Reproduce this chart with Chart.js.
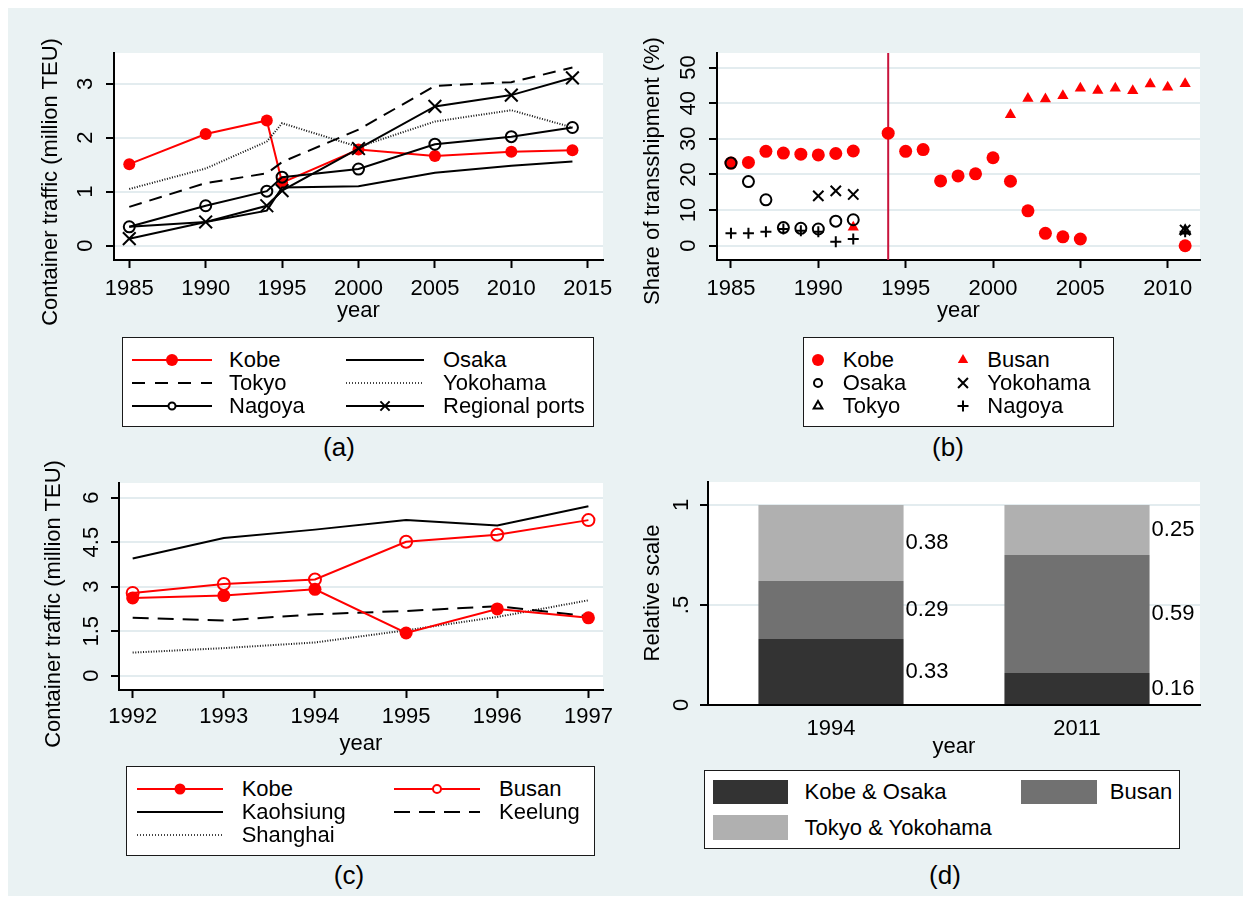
<!DOCTYPE html>
<html>
<head>
<meta charset="utf-8">
<title>Container traffic and transshipment</title>
<script src="https://cdn.jsdelivr.net/npm/chart.js@4.4.1/dist/chart.umd.min.js"></script>
<style>
  html, body { margin: 0; padding: 0; background: #fff; }
  body { position: relative; width: 1243px; height: 902px; overflow: hidden;
         font-family: 'Liberation Sans', Arial, sans-serif; color: #000; }
  #frame { position: absolute; left: 8px; top: 8px; width: 1235px; height: 888px; background: #eaf2f3; }
  canvas.panel { position: absolute; }
  .ytitle { position: absolute; font-size: 22px; line-height: 22px; white-space: nowrap;
            transform: translate(-50%, -50%) rotate(-90deg); }
  .caption { position: absolute; font-size: 26px; line-height: 26px; white-space: nowrap;
             transform: translate(-50%, -50%); }
  .legend { position: absolute; background: #fff; border: 1px solid #1a1a1a; box-sizing: border-box; }
  .legend span { position: absolute; font-size: 22px; line-height: 22px; white-space: nowrap; }
  .legend canvas { position: absolute; }
</style>
</head>
<body>
<div id="frame"></div>

<canvas class="panel" id="chartA" width="593" height="284" style="left:30px;top:40px"></canvas>
<canvas class="panel" id="chartB" width="580" height="284" style="left:640px;top:40px"></canvas>
<canvas class="panel" id="chartC" width="593" height="287" style="left:30px;top:470px"></canvas>
<canvas class="panel" id="chartD" width="580" height="290" style="left:640px;top:470px"></canvas>

<div class="ytitle" style="left:49.5px;top:182px">Container traffic (million TEU)</div>
<div class="ytitle" style="left:652px;top:171px">Share of transshipment (%)</div>
<div class="ytitle" style="left:53px;top:604px">Container traffic (million TEU)</div>
<div class="ytitle" style="left:652px;top:593px">Relative scale</div>

<div class="caption" style="left:339px;top:447px">(a)</div>
<div class="caption" style="left:948px;top:447px">(b)</div>
<div class="caption" style="left:349px;top:875px">(c)</div>
<div class="caption" style="left:945px;top:875px">(d)</div>

<script>
// ---- (a) container traffic of Japanese ports, million TEU
const yearsA = [1985, 1990, 1994, 1995, 2000, 2005, 2010, 2014];
const kobeA = [1.51, 2.07, 2.32, 1.17, 1.78, 1.66, 1.74, 1.77];
const osakaA = [0.35, 0.44, 0.65, 1.08, 1.10, 1.35, 1.48, 1.56];
const tokyoA = [0.72, 1.16, 1.34, 1.55, 2.15, 2.96, 3.03, 3.30];
const yokohamaA = [1.05, 1.43, 1.93, 2.27, 1.83, 2.30, 2.51, 2.19];
const nagoyaA = [0.35, 0.74, 1.01, 1.27, 1.42, 1.88, 2.02, 2.19];
const regionalA = [0.13, 0.44, 0.74, 1.02, 1.80, 2.58, 2.79, 3.11];
const xTicksA = [1985, 1990, 1995, 2000, 2005, 2010, 2015];
const yTicksA = [0, 1, 2, 3];
const yLabelsA = ['0', '1', '2', '3'];

// ---- (b) share of transshipment, %
const kobeYearsB = [1985, 1986, 1987, 1988, 1989, 1990, 1991, 1992, 1994, 1995, 1996, 1997, 1998, 1999, 2000, 2001, 2002, 2003, 2004, 2005, 2011];
const kobeB = [23.2, 23.4, 26.5, 26.0, 25.7, 25.5, 25.9, 26.6, 31.6, 26.5, 27.0, 18.2, 19.6, 20.2, 24.7, 18.1, 9.8, 3.5, 2.5, 1.9, 0.0];
const busanYearsB = [1992, 2001, 2002, 2003, 2004, 2005, 2006, 2007, 2008, 2009, 2010, 2011];
const busanB = [5.2, 36.8, 41.3, 41.2, 42.1, 44.2, 43.6, 44.2, 43.5, 45.4, 44.5, 45.5];
const osakaYearsB = [1985, 1986, 1987, 1988, 1989, 1990, 1991, 1992];
const osakaB = [23.2, 18.0, 12.9, 5.1, 4.9, 4.7, 6.9, 7.3];
const yokohamaYearsB = [1990, 1991, 1992, 2011];
const yokohamaB = [14.0, 15.4, 14.4, 4.4];
const nagoyaYearsB = [1985, 1986, 1987, 1988, 1989, 1990, 1991, 1992, 2011];
const nagoyaB = [3.5, 3.5, 3.9, 4.7, 4.2, 3.9, 1.1, 1.9, 3.9];
const tokyoYearsB = [2011];
const tokyoB = [4.2];
const quakeYear = 1994;
const xTicksB = [1985, 1990, 1995, 2000, 2005, 2010];
const yTicksB = [0, 10, 20, 30, 40, 50];
const yLabelsB = ['0', '10', '20', '30', '40', '50'];

// ---- (c) container traffic around the earthquake, million TEU
const yearsC = [1992, 1993, 1994, 1995, 1996, 1997];
const kobeC = [2.62, 2.70, 2.91, 1.44, 2.25, 1.95];
const busanC = [2.79, 3.09, 3.24, 4.51, 4.75, 5.24];
const kaohsiungC = [3.95, 4.64, 4.92, 5.24, 5.06, 5.71];
const keelungC = [1.95, 1.86, 2.07, 2.18, 2.34, 2.00];
const shanghaiC = [0.78, 0.93, 1.12, 1.53, 1.98, 2.54];
const xTicksC = [1992, 1993, 1994, 1995, 1996, 1997];
const yTicksC = [0, 1.5, 3, 4.5, 6];
const yLabelsC = ['0', '1.5', '3', '4.5', '6'];

// ---- (d) relative scale
const yearsD = ['1994', '2011'];
const kobeOsakaD = [0.33, 0.16];
const busanD = [0.29, 0.59];
const tokyoYokohamaD = [0.38, 0.25];
const yTicksD = [0, 0.5, 1];
const yLabelsD = ['0', '.5', '1'];

const FONT = "'Liberation Sans', Arial, sans-serif";
const RED = '#ff0000';
const GRID = '#e3ecef';

Chart.defaults.font.family = FONT;
Chart.defaults.font.size = 22;
Chart.defaults.color = '#000';

const plotBg = {
    id: 'plotBg',
    beforeDraw(chart) {
        const { ctx, chartArea: a } = chart;
        ctx.save();
        ctx.fillStyle = '#fff';
        ctx.fillRect(a.left, a.top, a.right - a.left, a.bottom - a.top);
        ctx.restore();
    }
};

const quakeLine = {
    id: 'quakeLine',
    beforeDatasetsDraw(chart) {
        const { ctx, chartArea: a, scales } = chart;
        const px = scales.x.getPixelForValue(quakeYear);
        ctx.save();
        ctx.strokeStyle = '#c8143c';
        ctx.lineWidth = 2;
        ctx.beginPath();
        ctx.moveTo(px, a.top);
        ctx.lineTo(px, a.bottom);
        ctx.stroke();
        ctx.restore();
    }
};

const barValues = {
    id: 'barValues',
    afterDatasetsDraw(chart) {
        const { ctx } = chart;
        ctx.save();
        ctx.font = '22px ' + FONT;
        ctx.fillStyle = '#000';
        ctx.textAlign = 'left';
        ctx.textBaseline = 'middle';
        chart.data.datasets.forEach((ds, i) => {
            chart.getDatasetMeta(i).data.forEach((bar, j) => {
                const { x, y, base, width } = bar.getProps(['x', 'y', 'base', 'width'], true);
                ctx.fillText(ds.data[j].toFixed(2), x + width / 2 + 2, (y + base) / 2);
            });
        });
        ctx.restore();
    }
};

const pts = (xs, ys) => xs.map((x, i) => ({ x, y: ys[i] }));

function series(label, xs, ys, st) {
    return {
        label,
        data: pts(xs, ys),
        showLine: st.line !== false,
        borderColor: st.color,
        borderWidth: 2,
        borderDash: st.dash || [],
        tension: 0,
        pointStyle: st.marker || 'circle',
        pointRadius: st.marker ? st.r : 0,
        pointBorderColor: st.color,
        pointBackgroundColor: st.fill || 'rgba(0,0,0,0)',
        pointBorderWidth: st.bw === undefined ? 2 : st.bw
    };
}

function xLinear(min, max, ticks, pad, height) {
    return {
        type: 'linear', min, max, bounds: 'data',
        afterBuildTicks: s => { s.ticks = ticks.map(v => ({ value: v })); },
        afterFit: s => { s.height = height; },
        ticks: { callback: v => String(v), padding: pad, maxRotation: 0, autoSkip: false },
        grid: { drawOnChartArea: false, tickLength: 8, tickColor: '#000', tickWidth: 2 },
        border: { color: '#000', width: 2 },
        title: { display: true, text: 'year', padding: 0 }
    };
}

// rotated labels: drop the label overhang Chart.js reserves above and below the axis
function yLinear(min, max, ticks, labels, pad, width) {
    return {
        type: 'linear', min, max, bounds: 'data',
        afterBuildTicks: s => { s.ticks = ticks.map(v => ({ value: v })); },
        afterFit: s => { s.width = width; s.paddingTop = 0; s.paddingBottom = 0; },
        ticks: { callback: (v, i) => labels[i], padding: pad, minRotation: 90, maxRotation: 90,
                 crossAlign: 'center', autoSkip: false },
        grid: { color: GRID, lineWidth: 2, tickLength: 8, tickColor: '#000', tickWidth: 2 },
        border: { color: '#000', width: 2 }
    };
}

const baseOptions = (padding) => ({
    responsive: false,
    devicePixelRatio: 1,
    animation: false,
    layout: { padding, autoPadding: false },
    plugins: { legend: { display: false }, tooltip: { enabled: false } }
});

// (a)
new Chart(document.getElementById('chartA'), {
    type: 'line',
    data: {
        datasets: [
            series('Osaka', yearsA, osakaA, { color: '#000' }),
            series('Tokyo', yearsA, tokyoA, { color: '#000', dash: [13, 8] }),
            series('Yokohama', yearsA, yokohamaA, { color: '#111', dash: [1, 1.6] }),
            series('Nagoya', yearsA, nagoyaA, { color: '#000', marker: 'circle', r: 5.5 }),
            series('Regional ports', yearsA, regionalA, { color: '#000', marker: 'crossRot', r: 9 }),
            series('Kobe', yearsA, kobeA, { color: RED, fill: RED, marker: 'circle', r: 6, bw: 0 })
        ]
    },
    options: Object.assign(baseOptions({ left: 0, top: 13, right: 20, bottom: 0 }), {
        scales: {
            x: xLinear(1984, 2016, xTicksA, 8, 64),
            y: yLinear(-0.265, 3.57, yTicksA, yLabelsA, 13.5, 84)
        }
    }),
    plugins: [plotBg]
});

// (b)
new Chart(document.getElementById('chartB'), {
    type: 'scatter',
    data: {
        datasets: [
            series('Osaka', osakaYearsB, osakaB, { color: '#000', marker: 'circle', r: 5.5, line: false }),
            series('Yokohama', yokohamaYearsB, yokohamaB, { color: '#000', marker: 'crossRot', r: 7.3, line: false }),
            series('Nagoya', nagoyaYearsB, nagoyaB, { color: '#000', marker: 'cross', r: 5.5, line: false }),
            series('Tokyo', tokyoYearsB, tokyoB, { color: '#000', marker: 'triangle', r: 5.5, line: false }),
            series('Kobe', kobeYearsB, kobeB, { color: RED, fill: RED, marker: 'circle', r: 6.5, bw: 0, line: false }),
            series('Busan', busanYearsB, busanB, { color: RED, fill: RED, marker: 'triangle', r: 6.5, bw: 0, line: false })
        ]
    },
    options: Object.assign(baseOptions({ left: 0, top: 13, right: 20, bottom: 0 }), {
        scales: {
            x: xLinear(1984.2, 2011.85, xTicksB, 8, 64),
            y: yLinear(-4.0, 54.1, yTicksB, yLabelsB, 8, 77)
        }
    }),
    plugins: [plotBg, quakeLine]
});

// (c)
new Chart(document.getElementById('chartC'), {
    type: 'line',
    data: {
        datasets: [
            series('Kobe', yearsC, kobeC, { color: RED, fill: RED, marker: 'circle', r: 6.5, bw: 0 }),
            series('Busan', yearsC, busanC, { color: RED, marker: 'circle', r: 6 }),
            series('Kaohsiung', yearsC, kaohsiungC, { color: '#000' }),
            series('Keelung', yearsC, keelungC, { color: '#000', dash: [16, 9] }),
            series('Shanghai', yearsC, shanghaiC, { color: '#111', dash: [1, 1.6] })
        ]
    },
    options: Object.assign(baseOptions({ left: 0, top: 13, right: 20, bottom: 0 }), {
        scales: {
            x: xLinear(1991.85, 1997.16, xTicksC, 6, 67),
            y: yLinear(-0.48, 6.49, yTicksC, yLabelsC, 4, 89)
        }
    }),
    plugins: [plotBg]
});

// (d)
new Chart(document.getElementById('chartD'), {
    type: 'bar',
    data: {
        labels: yearsD,
        datasets: [
            { label: 'Kobe & Osaka', data: kobeOsakaD, backgroundColor: '#333333' },
            { label: 'Busan', data: busanD, backgroundColor: '#717171' },
            { label: 'Tokyo & Yokohama', data: tokyoYokohamaD, backgroundColor: '#b0b0b0' }
        ]
    },
    options: Object.assign(baseOptions({ left: 0, top: 12, right: 20, bottom: 0 }), {
        datasets: { bar: { barPercentage: 0.59, categoryPercentage: 1, borderWidth: 0 } },
        scales: {
            x: {
                stacked: true,
                afterFit: s => { s.height = 55; },
                ticks: { padding: 11, maxRotation: 0 },
                grid: { display: false, drawTicks: false },
                border: { color: '#000', width: 2 },
                title: { display: true, text: 'year', padding: 0 }
            },
            y: Object.assign(yLinear(0, 1.115, yTicksD, yLabelsD, 9, 68), { stacked: true })
        }
    }),
    plugins: [plotBg, barValues]
});

// ---- legends (Stata style boxes)
function sample(ctx, w, h, st) {
    const cy = h / 2;
    if (st.swatch) {
        ctx.fillStyle = st.swatch;
        ctx.fillRect(0, 0, w, h);
        return;
    }
    if (st.line) {
        ctx.strokeStyle = st.lineColor || st.color;
        ctx.lineWidth = 2;
        ctx.setLineDash(st.dash || []);
        ctx.beginPath();
        ctx.moveTo(0, cy);
        ctx.lineTo(w, cy);
        ctx.stroke();
        ctx.setLineDash([]);
    }
    if (st.marker) {
        ctx.strokeStyle = st.color;
        ctx.fillStyle = st.fill || '#fff';
        ctx.lineWidth = 2;
        Chart.helpers.drawPoint(ctx, { pointStyle: st.marker, radius: st.r, rotation: 0, borderWidth: st.fill ? 0 : 2 }, w / 2, cy);
    }
}

function legend(box, items) {
    const el = document.createElement('div');
    el.className = 'legend';
    el.style.left = box[0] + 'px';
    el.style.top = box[1] + 'px';
    el.style.width = box[2] + 'px';
    el.style.height = box[3] + 'px';
    items.forEach(it => {
        const c = document.createElement('canvas');
        c.width = it.w;
        c.height = it.h || 24;
        c.style.left = (it.sx - box[0] - 1) + 'px';
        c.style.top = (it.cy - c.height / 2 - box[1] - 1) + 'px';
        sample(c.getContext('2d'), c.width, c.height, it.st);
        el.appendChild(c);
        const s = document.createElement('span');
        s.textContent = it.text;
        s.style.left = (it.tx - box[0] - 1) + 'px';
        s.style.top = (it.cy - 11 - box[1] - 1) + 'px';
        el.appendChild(s);
    });
    document.body.appendChild(el);
}

legend([122, 337, 472, 90], [
    { text: 'Kobe', sx: 132, w: 80, tx: 229, cy: 360, st: { line: true, color: RED, fill: RED, marker: 'circle', r: 6 } },
    { text: 'Osaka', sx: 346, w: 78, tx: 443, cy: 360, st: { line: true, color: '#000' } },
    { text: 'Tokyo', sx: 132, w: 80, tx: 229, cy: 383, st: { line: true, color: '#000', dash: [13, 10] } },
    { text: 'Yokohama', sx: 346, w: 78, tx: 443, cy: 383, st: { line: true, color: '#444', dash: [1, 2] } },
    { text: 'Nagoya', sx: 132, w: 80, tx: 229, cy: 406, st: { line: true, color: '#000', marker: 'circle', r: 3.5 } },
    { text: 'Regional ports', sx: 346, w: 78, tx: 443, cy: 406, st: { line: true, color: '#000', marker: 'crossRot', r: 6.5 } }
]);

legend([802.7, 336.7, 311.6, 90.6], [
    { text: 'Kobe', sx: 806, w: 24, tx: 842.7, cy: 360, st: { color: RED, fill: RED, marker: 'circle', r: 6 } },
    { text: 'Busan', sx: 950.7, w: 24, tx: 987.3, cy: 360, st: { color: RED, fill: RED, marker: 'triangle', r: 6 } },
    { text: 'Osaka', sx: 806, w: 24, tx: 842.7, cy: 383, st: { color: '#000', marker: 'circle', r: 4 } },
    { text: 'Yokohama', sx: 950.7, w: 24, tx: 987.3, cy: 383, st: { color: '#000', marker: 'crossRot', r: 7 } },
    { text: 'Tokyo', sx: 806, w: 24, tx: 842.7, cy: 406, st: { color: '#000', marker: 'triangle', r: 5 } },
    { text: 'Nagoya', sx: 950.7, w: 24, tx: 987.3, cy: 406, st: { color: '#000', marker: 'cross', r: 5.5 } }
]);

legend([126, 765.7, 468.7, 90.3], [
    { text: 'Kobe', sx: 136.7, w: 86, tx: 241.7, cy: 789.5, st: { line: true, color: RED, fill: RED, marker: 'circle', r: 5.5 } },
    { text: 'Busan', sx: 394, w: 86, tx: 499, cy: 789.5, st: { line: true, color: RED, marker: 'circle', r: 4 } },
    { text: 'Kaohsiung', sx: 136.7, w: 86, tx: 241.7, cy: 812.5, st: { line: true, color: '#000' } },
    { text: 'Keelung', sx: 394, w: 86, tx: 499, cy: 812.5, st: { line: true, color: '#000', dash: [16, 9] } },
    { text: 'Shanghai', sx: 136.7, w: 86, tx: 241.7, cy: 835.5, st: { line: true, color: '#444', dash: [1, 2] } }
]);

legend([704.4, 770, 475.4, 79.3], [
    { text: 'Kobe & Osaka', sx: 713.4, w: 75, h: 24, tx: 804.6, cy: 792, st: { swatch: '#333333' } },
    { text: 'Busan', sx: 1021, w: 76, h: 24, tx: 1109.8, cy: 792, st: { swatch: '#717171' } },
    { text: 'Tokyo & Yokohama', sx: 713.4, w: 75, h: 25, tx: 804.6, cy: 827.5, st: { swatch: '#b0b0b0' } }
]);
</script>
</body>
</html>
